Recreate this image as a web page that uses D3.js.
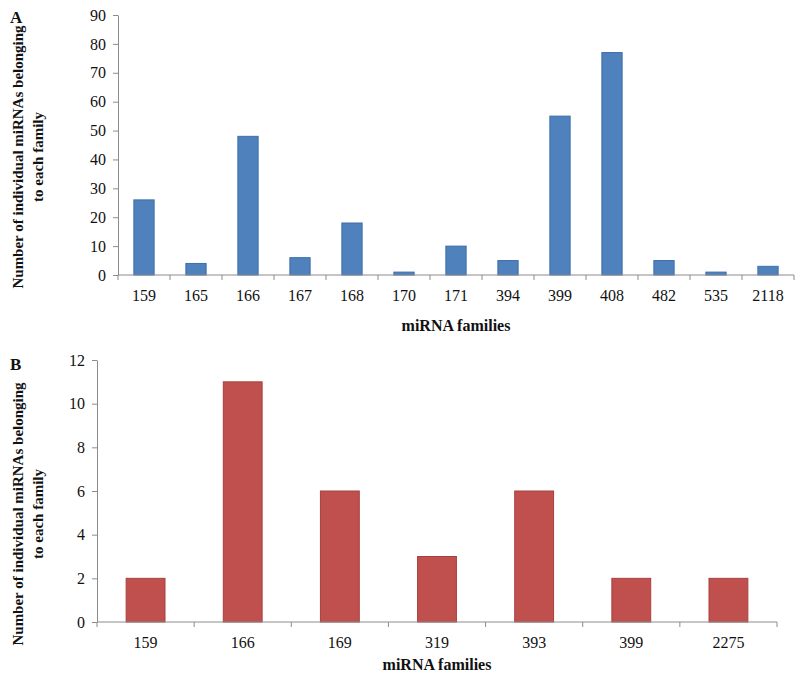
<!DOCTYPE html>
<html><head><meta charset="utf-8">
<script src="https://cdn.jsdelivr.net/npm/d3@7"></script>
<style>body{margin:0;background:#fff}svg{display:block}text{font-family:"Liberation Serif","Times New Roman",serif;}</style>
</head><body>
<svg id="c" width="800" height="682"></svg>
<script>
const catsA = ["159","165","166","167","168","170","171","394","399","408","482","535","2118"];
const valsA = [26,4,48,6,18,1,10,5,55,77,5,1,3];
const ticksA = [0,10,20,30,40,50,60,70,80,90];
const catsB = ["159","166","169","319","393","399","2275"];
const valsB = [2,11,6,3,6,2,2];
const ticksB = [0,2,4,6,8,10,12];
const yLabel1 = "Number of individual miRNAs belonging";
const yLabel2 = "to each family";
const xLabel = "miRNA families";

const svg = d3.select("#c");

function panel(o){
  const xb = d3.scaleBand().domain(o.cats).range([o.x0,o.x1]);
  const y = d3.scaleLinear().domain([0,o.ymax]).range([o.yb,o.yt]);
  const g = svg.append("g");
  g.selectAll("rect").data(o.vals).enter().append("rect")
    .attr("x",(d,i)=>xb(o.cats[i]) + xb.bandwidth()*(1-o.bw)/2)
    .attr("width",xb.bandwidth()*o.bw)
    .attr("y",d=>y(d)).attr("height",d=>y(0)-y(d))
    .attr("fill",o.color).attr("stroke",o.stroke).attr("stroke-width",1);
  const ya = g.append("g").attr("transform",`translate(${o.x0},0)`)
    .call(d3.axisLeft(y).tickValues(o.ticks).tickSize(5).tickSizeOuter(0).tickPadding(7));
  ya.select(".domain").attr("stroke","#8c8c8c");
  ya.selectAll(".tick line").attr("stroke","#8c8c8c");
  ya.selectAll("text").attr("font-size",16).attr("fill","#111").attr("font-family",'"Liberation Serif",serif');
  const xa = g.append("g").attr("transform",`translate(0,${o.yb})`);
  xa.append("line").attr("x1",o.x0).attr("x2",o.x1).attr("y1",0).attr("y2",0).attr("stroke","#8c8c8c");
  const bounds = o.cats.map(c=>xb(c)).concat([o.x1]);
  xa.selectAll("line.t").data(bounds).enter().append("line").attr("class","t")
    .attr("x1",d=>d).attr("x2",d=>d).attr("y1",0).attr("y2",5).attr("stroke","#8c8c8c");
  xa.selectAll("text").data(o.cats).enter().append("text")
    .attr("x",d=>xb(d)+xb.bandwidth()/2).attr("y",o.lblDy)
    .attr("text-anchor","middle").attr("font-size",16).attr("fill","#111").text(d=>d);
  g.append("text").attr("x",(o.x0+o.x1)/2).attr("y",o.xTitleY).attr("text-anchor","middle")
    .attr("font-size",16).attr("font-weight","bold").attr("fill","#111").text(xLabel);
  const yc = o.yTitleC;
  g.append("text").attr("transform",`translate(23,${yc}) rotate(-90)`).attr("text-anchor","middle")
    .attr("font-size",15).attr("font-weight","bold").attr("fill","#111").text(yLabel1);
  g.append("text").attr("transform",`translate(43,${yc}) rotate(-90)`).attr("text-anchor","middle")
    .attr("font-size",15).attr("font-weight","bold").attr("fill","#111").text(yLabel2);
  g.append("text").attr("x",10).attr("y",o.letterY).attr("font-size",17).attr("font-weight","bold")
    .attr("fill","#111").text(o.letter);
}

panel({cats:catsA, vals:valsA, ticks:ticksA, ymax:90, x0:118, x1:794, yt:15, yb:275, bw:0.39,
  color:"#4f81bd", stroke:"#3f6fa8", lblDy:26, xTitleY:331, yTitleC:157, letter:"A", letterY:23});
panel({cats:catsB, vals:valsB, ticks:ticksB, ymax:12, x0:97, x1:777, yt:360, yb:622, bw:0.4,
  color:"#c0504d", stroke:"#a8403d", lblDy:26, xTitleY:670, yTitleC:514, letter:"B", letterY:370});
</script>
</body></html>
